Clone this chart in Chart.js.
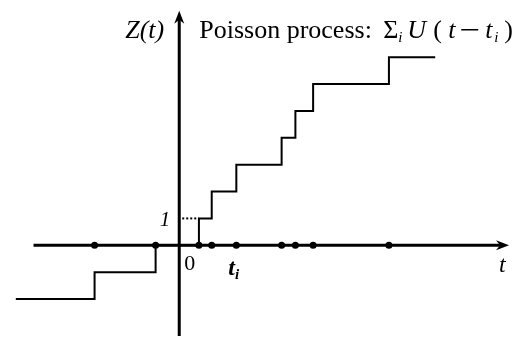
<!DOCTYPE html>
<html>
<head>
<meta charset="utf-8">
<title>Poisson process</title>
<script src="https://cdn.jsdelivr.net/npm/chart.js@4"></script>
<style>
  html, body { margin: 0; padding: 0; background: #ffffff; }
  canvas { display: block; }
</style>
</head>
<body>
<canvas id="chart" width="515" height="342"></canvas>
<script>
// Arrival times t_i and the counting level reached right after each arrival
const jumpTimes = [-8.6, -2.4, 2.0, 3.3, 5.8, 10.4, 11.8, 13.6, 21.3];
const levelsAfterJump = [-1, 0, 1, 2, 3, 4, 5, 6, 7];
// Level held before the first arrival and where the path is drawn from / to
const startTime = -16.6;
const startLevel = -2;
const endTime = 26.0;

// Extent of the drawn t and Z(t) axes
const xAxisRange = [-14.8, 33.5];
const yAxisRange = [-3.38, 8.73];

const pathPoints = [{ x: startTime, y: startLevel }]
  .concat(jumpTimes.map((t, i) => ({ x: t, y: levelsAfterJump[i] })))
  .concat([{ x: endTime, y: levelsAfterJump[levelsAfterJump.length - 1] }]);

const arrivalPoints = jumpTimes.map(t => ({ x: t, y: 0 }));

const SERIF = '"Liberation Serif", "DejaVu Serif", serif';

function arrowHead(ctx, x, y, dir) {
  ctx.save();
  ctx.translate(x, y);
  if (dir === 'up') ctx.rotate(-Math.PI / 2);
  ctx.beginPath();
  ctx.moveTo(0, 0);
  ctx.lineTo(-13, -5);
  ctx.lineTo(-9, 0);
  ctx.lineTo(-13, 5);
  ctx.closePath();
  ctx.fillStyle = '#000';
  ctx.fill();
  ctx.restore();
}

// Heading pieces: text, font, horizontal offset from the Z(t) axis, baseline shift
const headingPieces = [
  ['Poisson process:', '26px', 20, 0],
  ['\u03A3', '26px', 204, 0],
  ['i', 'italic 15px', 219, 4],
  ['U', 'italic 26px', 228, 0],
  ['(', '26px', 254, 0],
  ['t', 'italic 26px', 269, 0],
  ['t', 'italic 26px', 306, 0],
  ['i', 'italic 15px', 315, 4],
  [')', '26px', 325, 0]
];
// the minus sign of the heading, drawn as a rule: offset from axis, width
const headingMinus = [282, 17];

const axesPlugin = {
  id: 'axesAndLabels',
  beforeDatasetsDraw(chart) {
    const { ctx, scales: { x, y } } = chart;
    const x0 = x.getPixelForValue(0);
    const y0 = y.getPixelForValue(0);
    ctx.save();
    ctx.strokeStyle = '#000';
    ctx.lineWidth = 3;
    ctx.lineCap = 'butt';
    // t axis
    const xl = x.getPixelForValue(xAxisRange[0]);
    const xr = x.getPixelForValue(xAxisRange[1]);
    ctx.beginPath();
    ctx.moveTo(xl, y0);
    ctx.lineTo(xr - 8, y0);
    ctx.stroke();
    arrowHead(ctx, xr, y0, 'right');
    // Z(t) axis
    const yb = y.getPixelForValue(yAxisRange[0]);
    const yt = y.getPixelForValue(yAxisRange[1]);
    ctx.beginPath();
    ctx.moveTo(x0, yb);
    ctx.lineTo(x0, yt + 8);
    ctx.stroke();
    arrowHead(ctx, x0, yt, 'up');

    // dotted guide at level 1 up to the first positive arrival
    const firstPos = jumpTimes.find(t => t > 0);
    const y1 = y.getPixelForValue(1);
    ctx.lineWidth = 2;
    ctx.setLineDash([2, 2]);
    ctx.beginPath();
    ctx.moveTo(x0 + 3, y1);
    ctx.lineTo(x.getPixelForValue(firstPos), y1);
    ctx.stroke();
    ctx.restore();
  },
  afterDatasetsDraw(chart) {
    const { ctx, scales: { x, y } } = chart;
    const x0 = x.getPixelForValue(0);
    const y0 = y.getPixelForValue(0);
    ctx.save();
    ctx.fillStyle = '#000';
    ctx.textBaseline = 'alphabetic';
    ctx.textAlign = 'left';

    // Z(t) axis title
    ctx.font = 'italic 26px ' + SERIF;
    ctx.fillText('Z(t)', x0 - 54, 38);

    // Heading
    headingPieces.forEach(([txt, f, dx, dy]) => {
      ctx.font = f + ' ' + SERIF;
      ctx.fillText(txt, x0 + dx, 38 + dy);
    });
    ctx.fillRect(x0 + headingMinus[0], 38 - 9, headingMinus[1], 1.5);

    // level 1 marker
    ctx.font = 'italic 21px ' + SERIF;
    ctx.textAlign = 'right';
    ctx.fillText('1', x0 - 9, y.getPixelForValue(1) + 8);

    // origin
    ctx.textAlign = 'left';
    ctx.font = '22px ' + SERIF;
    ctx.fillText('0', x0 + 5, y0 + 25);

    // t_i under an arrival
    ctx.font = 'bold italic 24px ' + SERIF;
    const tiX = x.getPixelForValue(jumpTimes[4]);
    ctx.fillText('t', tiX - 8, y0 + 30);
    const tw = ctx.measureText('t').width;
    ctx.font = 'bold italic 15px ' + SERIF;
    ctx.fillText('i', tiX - 8 + tw, y0 + 34);

    // t axis title
    ctx.font = 'italic 24px ' + SERIF;
    ctx.fillText('t', x.getPixelForValue(xAxisRange[1]) - 10, y0 + 27);
    ctx.restore();
  }
};

new Chart(document.getElementById('chart'), {
  type: 'scatter',
  data: {
    datasets: [
      {
        label: 'Z(t)',
        data: pathPoints,
        showLine: true,
        stepped: 'before',
        borderColor: '#000',
        borderWidth: 2,
        pointRadius: 0,
        fill: false
      },
      {
        label: 'arrivals',
        data: arrivalPoints,
        showLine: false,
        pointRadius: 3.5,
        pointBackgroundColor: '#000',
        pointBorderColor: '#000',
        pointBorderWidth: 0
      }
    ]
  },
  options: {
    responsive: false,
    animation: false,
    devicePixelRatio: 1,
    layout: { padding: 0 },
    plugins: {
      legend: { display: false },
      tooltip: { enabled: false },
      title: { display: false }
    },
    scales: {
      x: { type: 'linear', min: -17.8, max: 33.7, display: false },
      y: { type: 'linear', min: -3.45, max: 8.98, display: false }
    }
  },
  plugins: [axesPlugin]
});
</script>
</body>
</html>
